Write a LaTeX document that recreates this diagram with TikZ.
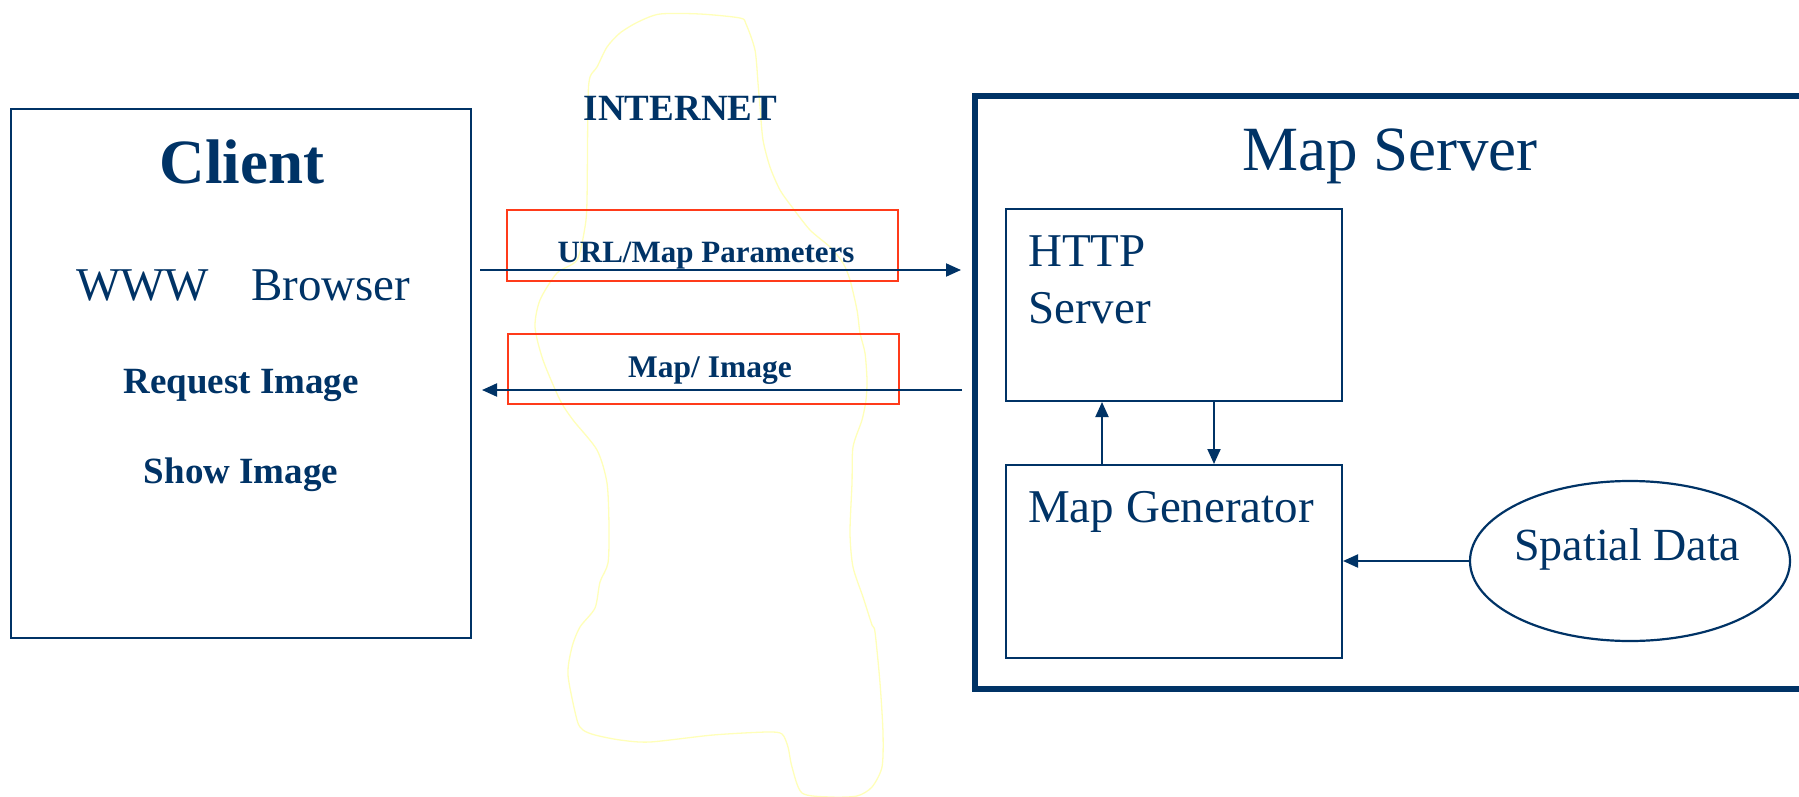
\documentclass[tikz,border=0pt]{standalone}
\usepackage{fontspec}
\setmainfont{Liberation Serif}
\usetikzlibrary{arrows.meta,shapes.geometric}
\definecolor{navy}{RGB}{0,51,102}
\definecolor{linkred}{RGB}{255,59,26}
\definecolor{cloudline}{RGB}{255,255,185}
\newcommand\fsz[1]{\fontsize{#1}{#1}\selectfont}
\tikzset{
  box/.style={draw=navy, line width=2pt, rectangle, inner sep=0pt},
  msgbox/.style={draw=linkred, line width=2.6pt, rectangle, inner sep=0pt},
  lbl/.style={text=navy, inner sep=0pt, anchor=base west},
  clbl/.style={text=navy, inner sep=0pt, anchor=base},
  arr/.style={draw=navy, line width=2pt, -{Triangle[length=15pt,width=13pt]}},
}
\begin{document}
\begin{tikzpicture}[x=1pt,y=-1pt]
\useasboundingbox (0,0) rectangle (1799,797);
\fill[white] (0,0) rectangle (1799,797);

% hand-drawn outline of the internet cloud
\draw[cloudline, line width=1.3pt] plot[smooth cycle, tension=0.45] coordinates {
 (620,33) (638,22) (660,14) (700,14) (740,18) (746,24) (755,50) (758,83)
 (760,107) (763,140) (770,167) (780,190) (792,207) (810,230) (830,247)
 (843,263) (850,280) (857,310) (860,333) (865,353) (867,380) (866,400)
 (862,420) (853,447) (852,483) (850,533) (853,567) (863,597) (872,625)
 (875,632) (880,683) (883,733) (882,767) (872,787) (857,796) (830,797)
 (802,793) (792,767) (788,747) (782,734) (767,732) (713,735) (650,742)
 (620,740) (595,735) (583,730) (577,720) (568,675) (572,647) (580,627)
 (595,608) (600,582) (608,563) (609,527) (607,483) (597,450) (573,420)
 (560,400) (543,360) (535,327) (540,300) (557,273) (577,260) (585,227)
 (587,200) (588,100) (590,77) (597,67) (607,47)};

% client side
\node[box, minimum width=460pt, minimum height=528pt] (client) at (241,373.5) {};
\node[clbl] (clienttitle) at (242,183) {\fsz{63}\bfseries Client};
\node[lbl] (www) at (76,300.5) {\fsz{47}WWW\hspace{42pt}Browser};
\node[clbl] (req) at (241,393.5) {\fsz{37}\bfseries Request Image};
\node[clbl] (show) at (241,483) {\fsz{37}\bfseries Show Image};

% internet
\node[clbl] (inet) at (680.5,121) {\fsz{37}\bfseries INTERNET};
\node[msgbox, minimum width=391pt, minimum height=71pt] (req box) at (702.5,245.5) {};
\node[msgbox, minimum width=391pt, minimum height=70pt] (resp box) at (703.5,369) {};
\node[clbl] (urltxt) at (706,262) {\fsz{31}\bfseries URL/Map Parameters};
\node[clbl] (imgtxt) at (710,377) {\fsz{31.5}\bfseries Map/ Image};

% map server
\draw[navy, line width=6pt] (1830,96) -- (975,96) -- (975,689) -- (1830,689);
\node[lbl] (mstitle) at (1242,171) {\fsz{63}Map Server};
\node[box, minimum width=336pt, minimum height=192pt] (http) at (1174,305) {};
\node[lbl] (httpA) at (1028,266) {\fsz{47}HTTP};
\node[lbl] (httpB) at (1028,323) {\fsz{47}Server};
\node[box, minimum width=336pt, minimum height=193pt] (mapgen) at (1174,561.5) {};
\node[lbl] (mgtxt) at (1028,522) {\fsz{47}Map Generator};
\node[draw=navy, line width=2.2pt, ellipse, minimum width=320pt, minimum height=160pt, inner sep=0pt] (sdata) at (1630,561) {};
\node[lbl] (sdtxt) at (1514,560) {\fsz{46}Spatial Data};

% requests and responses across the internet
\coordinate (urlA) at (480,270);
\coordinate (urlB) at (961,270);
\coordinate (imgA) at (962,390);
\coordinate (imgB) at (482,390);
\draw[arr] (urlA) -- (urlB);
\draw[arr] (imgA) -- (imgB);

% traffic inside the server
\coordinate (upx) at (1102,0);
\coordinate (downx) at (1214,0);
\draw[arr] (mapgen.north -| upx) -- (http.south -| upx);
\draw[arr] (http.south -| downx) -- (mapgen.north -| downx);
\draw[arr] (sdata.west) -- (mapgen.east |- sdata.west);
\end{tikzpicture}
\end{document}
